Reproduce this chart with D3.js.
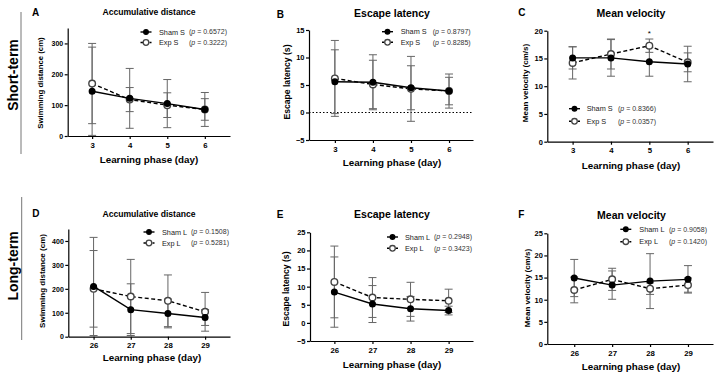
<!DOCTYPE html>
<html>
<head>
<meta charset="utf-8">
<script src="https://cdn.jsdelivr.net/npm/d3@7"></script>
<style>
	body { margin: 0; background: #fff; }
	svg { font-family: 'Liberation Sans', Arial, sans-serif; }
	.tick text { font-weight: bold; }
	.domain, .tick line { stroke: #000; stroke-width: 1.2; }
</style>
</head>
<body>
<script>
// dagen van de leerfase
const daysShort = [3, 4, 5, 6]
const daysLong = [26, 27, 28, 29]

// A - accumulative distance (short-term)
const distShamS = [145, 122, 105, 86]
const distShamSErr = [143, 97, 78, 55]
const distExpS = [170, 118, 100, 86]
const distExpSErr = [130, 39, 40, 35]

// B - escape latency (short-term)
const latShamS = [5.6, 5.5, 4.5, 3.9]
const latShamSErr = [5.8, 5.0, 4.0, 3.1]
const latExpS = [6.2, 5.1, 4.3, 3.9]
const latExpSErr = [6.9, 4.4, 5.9, 2.5]

// C - mean velocity (short-term)
const velShamS = [15.1, 15.1, 14.4, 14.0]
const velShamSErr = [2.0, 3.3, 2.6, 3.2]
const velExpS = [14.2, 15.8, 17.3, 14.3]
const velExpSErr = [2.9, 2.7, 1.2, 1.7]

// D - accumulative distance (long-term)
const distShamL = [210, 113, 97, 80]
const distShamLErr = [205, 108, 60, 33]
const distExpL = [200, 168, 150, 104]
const distExpLErr = [160, 155, 108, 81]

// E - escape latency (long-term)
const latShamL = [8.5, 5.2, 3.9, 3.4]
const latShamLErr = [9.7, 5.1, 3.4, 1.2]
const latExpL = [11.3, 7.0, 6.5, 6.1]
const latExpLErr = [9.9, 5.5, 4.7, 3.2]

// F - mean velocity (long-term)
const velShamL = [14.9, 13.3, 14.2, 14.6]
const velShamLErr = [4.2, 3.2, 6.2, 3.1]
const velExpL = [12.2, 14.6, 12.5, 13.3]
const velExpLErr = [2.9, 2.5, 1.3, 1.6]

// tick labels van de y assen
const ticksDist = [0, 100, 200, 300]
const ticksDistL = [0, 100, 200, 300, 400]
const ticksLat = [-5, 0, 5, 10, 15]
const ticksLatL = [-5, 0, 5, 10, 15, 20, 25]
const ticksVel = [0, 5, 10, 15, 20]
const ticksVelL = [0, 5, 10, 15, 20, 25]

// p-waarden uit de legenda (sham, exp)
const pShort = [['0.6572', '0.3222'], ['0.8797', '0.8285'], ['0.8366', '0.0357']]
const pLong = [['0.1508', '0.5281'], ['0.2948', '0.3423'], ['0.9058', '0.1420']]

const svg = d3.select('body').append('svg').attr('width', 714).attr('height', 376)

// opbouw van de zes panelen (posities in pixels)
const panels = [
	{ letter: 'A', lx: 32, ly: 16, title: 'Accumulative distance', tx: 149, ty: 14.5, tsize: 8.6,
		ax: 67.7, rx: 230, yr: [136, 28], xdom: [2.35, 6.67], ydom: [0, 350], yticks: ticksDist, days: daysShort, ytsize: 7,
		ylabel: 'Swimming distance (cm)', ylx: 42.5, yly: 83, ylsize: 7.8, xlx: 149, xly: 162.5,
		sham: distShamS, shamErr: distShamSErr, exp: distExpS, expErr: distExpSErr,
		names: ['Sham S', 'Exp S'], p: pShort[0], legX: 146, legY: 32, legGap: 10.5, legT: 159, legP: 189 },
	{ letter: 'B', lx: 276.7, ly: 18, title: 'Escape latency', tx: 392, ty: 16.5, tsize: 10.5,
		ax: 309, rx: 473, yr: [140, 30], xdom: [2.32, 6.63], ydom: [-5, 15], yticks: ticksLat, days: daysShort, ytsize: 7.5,
		ylabel: 'Escape latency (s)', ylx: 289.5, yly: 82, ylsize: 8.6, xlx: 392, xly: 166,
		sham: latShamS, shamErr: latShamSErr, exp: latExpS, expErr: latExpSErr, zero: true,
		names: ['Sham S', 'Exp S'], p: pShort[1], legX: 387.5, legY: 31.7, legGap: 10.6, legT: 400.7, legP: 432.7 },
	{ letter: 'C', lx: 518.3, ly: 16, title: 'Mean velocity', tx: 631, ty: 17, tsize: 10.5,
		ax: 547.3, rx: 713, yr: [141.7, 30.7], xdom: [2.34, 6.66], ydom: [0, 20], yticks: ticksVel, days: daysShort, ytsize: 7.5,
		ylabel: 'Mean velocity (cm/s)', ylx: 527.5, yly: 83, ylsize: 8, xlx: 631, xly: 168.5,
		sham: velShamS, shamErr: velShamSErr, exp: velExpS, expErr: velExpSErr, star: 5,
		names: ['Sham S', 'Exp S'], p: pShort[2], legX: 574.5, legY: 108.7, legGap: 12.6, legT: 586.7, legP: 618 },
	{ letter: 'D', lx: 32.3, ly: 216.7, title: 'Accumulative distance', tx: 149, ty: 216.5, tsize: 8.6,
		ax: 68.3, rx: 230, yr: [336.7, 229], xdom: [25.32, 29.67], ydom: [0, 450], yticks: ticksDistL, days: daysLong, ytsize: 7,
		ylabel: 'Swimming distance (cm)', ylx: 45, yly: 281, ylsize: 8, xlx: 152, xly: 361,
		sham: distShamL, shamErr: distShamLErr, exp: distExpL, expErr: distExpLErr,
		names: ['Sham L', 'Exp L'], p: pLong[0], legX: 149, legY: 232, legGap: 11, legT: 162, legP: 191 },
	{ letter: 'E', lx: 276.7, ly: 218.3, title: 'Escape latency', tx: 392, ty: 218, tsize: 10.5,
		ax: 310, rx: 473, yr: [341, 232.3], xdom: [25.36, 29.64], ydom: [-5, 25], yticks: ticksLatL, days: daysLong, ytsize: 7.5,
		ylabel: 'Escape latency (s)', ylx: 289, yly: 289, ylsize: 8.6, xlx: 392, xly: 368,
		sham: latShamL, shamErr: latShamLErr, exp: latExpL, expErr: latExpLErr,
		names: ['Sham L', 'Exp L'], p: pLong[1], legX: 392.5, legY: 237, legGap: 11.3, legT: 405, legP: 434 },
	{ letter: 'F', lx: 518.3, ly: 217.7, title: 'Mean velocity', tx: 631.5, ty: 219, tsize: 10.5,
		ax: 547.3, rx: 713, yr: [344, 233.3], xdom: [25.29, 29.66], ydom: [0, 25], yticks: ticksVelL, days: daysLong, ytsize: 7.5,
		ylabel: 'Mean velocity (cm/s)', ylx: 529.5, yly: 288, ylsize: 8, xlx: 631, xly: 369.5,
		sham: velShamL, shamErr: velShamLErr, exp: velExpL, expErr: velExpLErr,
		names: ['Sham L', 'Exp L'], p: pLong[2], legX: 625.8, legY: 229.3, legGap: 12.4, legT: 639.3, legP: 669 }
]

// links de labels Short-term en Long-term met een verticale lijn
const groups = [
	{ label: 'Short-term', x: 13, y: 75, y1: 12, y2: 154, lineX: 21 },
	{ label: 'Long-term', x: 13, y: 266, y1: 197, y2: 340, lineX: 21.7 }
]
groups.forEach(gr => {
	svg.append('line').attr('x1', gr.lineX).attr('x2', gr.lineX).attr('y1', gr.y1).attr('y2', gr.y2)
		.attr('stroke', '#777').attr('stroke-width', 1)
	svg.append('text').attr('transform', `translate(${gr.x + 5},${gr.y}) rotate(-90)`)
		.attr('text-anchor', 'middle').attr('font-size', 14).attr('font-weight', 'bold').text(gr.label)
})

panels.forEach(drawPanel)

function drawPanel(p) {
	const g = svg.append('g')
	const x = d3.scaleLinear().domain(p.xdom).range([p.ax, p.rx])
	const y = d3.scaleLinear().domain(p.ydom).range(p.yr)

	// assen
	g.append('g').attr('transform', `translate(${p.ax},0)`)
		.call(d3.axisLeft(y).tickValues(p.yticks).tickSize(3).tickSizeOuter(0).tickPadding(1.5))
		.selectAll('.tick text').attr('font-size', p.ytsize)
	g.append('g').attr('transform', `translate(0,${p.yr[0]})`)
		.call(d3.axisBottom(x).tickValues(p.days).tickSize(3).tickSizeOuter(0).tickPadding(3).tickFormat(d3.format('d')))
		.selectAll('.tick text').attr('font-size', 7.8)

	// stippellijn op 0 (alleen B)
	if (p.zero) {
		g.append('line').attr('x1', p.ax).attr('x2', p.rx).attr('y1', y(0)).attr('y2', y(0))
			.attr('stroke', '#000').attr('stroke-width', 1).attr('stroke-dasharray', '1.5,2')
	}

	// teksten
	g.append('text').attr('x', p.lx).attr('y', p.ly).attr('font-size', 10).attr('font-weight', 'bold').text(p.letter)
	g.append('text').attr('x', p.tx).attr('y', p.ty).attr('text-anchor', 'middle')
		.attr('font-size', p.tsize).attr('font-weight', 'bold').text(p.title)
	g.append('text').attr('x', p.xlx).attr('y', p.xly).attr('text-anchor', 'middle')
		.attr('font-size', 9.8).attr('font-weight', 'bold').text('Learning phase (day)')
	g.append('text').attr('transform', `translate(${p.ylx},${p.yly}) rotate(-90)`).attr('text-anchor', 'middle')
		.attr('font-size', p.ylsize).attr('font-weight', 'bold').text(p.ylabel)

	const series = [
		{ vals: p.sham, err: p.shamErr, dash: null, fill: '#000', stroke: '#000', r: 2.8, lr: 2.3 },
		{ vals: p.exp, err: p.expErr, dash: '4,2.5', fill: '#fff', stroke: '#444', r: 3.3, lr: 2.8 }
	]

	// error bars eerst, zodat de punten erboven liggen
	series.forEach(s => {
		const d = p.days.map((day, i) => ({ day, v: s.vals[i], e: s.err[i] }))
		const eb = g.append('g').attr('stroke', '#666').attr('stroke-width', 1)
		eb.selectAll('.stem').data(d).join('line')
			.attr('x1', d => x(d.day)).attr('x2', d => x(d.day))
			.attr('y1', d => y(d.v - d.e)).attr('y2', d => y(d.v + d.e))
		eb.selectAll('.capT').data(d).join('line')
			.attr('x1', d => x(d.day) - 4).attr('x2', d => x(d.day) + 4)
			.attr('y1', d => y(d.v + d.e)).attr('y2', d => y(d.v + d.e))
		eb.selectAll('.capB').data(d).join('line')
			.attr('x1', d => x(d.day) - 4).attr('x2', d => x(d.day) + 4)
			.attr('y1', d => y(d.v - d.e)).attr('y2', d => y(d.v - d.e))
	})

	series.slice().reverse().forEach(s => {
		const d = p.days.map((day, i) => ({ day, v: s.vals[i] }))
		const line = d3.line().x(d => x(d.day)).y(d => y(d.v))
		g.append('path').datum(d).attr('d', line).attr('fill', 'none')
			.attr('stroke', '#000').attr('stroke-width', 1.4).attr('stroke-dasharray', s.dash)
		g.selectAll(null).data(d).join('circle')
			.attr('cx', d => x(d.day)).attr('cy', d => y(d.v)).attr('r', s.r)
			.attr('fill', s.fill).attr('stroke', s.stroke).attr('stroke-width', 1.4)
	})

	// sterretje boven dag 5 in C
	if (p.star) {
		const i = p.days.indexOf(p.star)
		g.append('text').attr('x', x(p.star)).attr('y', y(p.exp[i] + p.expErr[i]) - 3).attr('text-anchor', 'middle')
			.attr('font-size', 8).text('*')
	}

	// legenda
	series.forEach((s, i) => {
		const ly = p.legY + i * p.legGap
		g.append('line').attr('x1', p.legX - 5.5).attr('x2', p.legX + 5.5).attr('y1', ly).attr('y2', ly)
			.attr('stroke', '#000').attr('stroke-width', 1.4).attr('stroke-dasharray', s.dash ? '2.5,2' : null)
		g.append('circle').attr('cx', p.legX).attr('cy', ly).attr('r', s.lr)
			.attr('fill', s.fill).attr('stroke', s.stroke).attr('stroke-width', 1.3)
		g.append('text').attr('x', p.legT).attr('y', ly + 2.7).attr('font-size', 7.3).attr('fill', '#222').text(p.names[i])
		const pt = g.append('text').attr('x', p.legP).attr('y', ly + 2.4).attr('font-size', 7).attr('fill', '#333')
		pt.append('tspan').text('(')
		pt.append('tspan').attr('font-style', 'italic').text('p')
		pt.append('tspan').text(` = ${p.p[i]})`)
	})
}
</script>
</body>
</html>
